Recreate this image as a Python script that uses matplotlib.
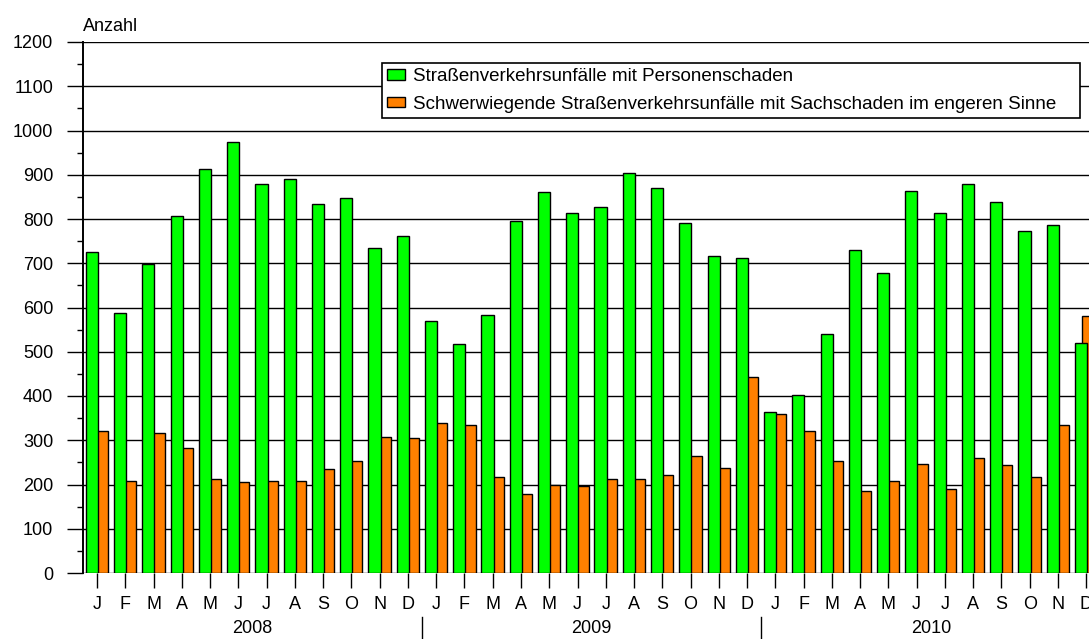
import numpy as np
import matplotlib
matplotlib.use("Agg")
from matplotlib import pyplot as plt
from matplotlib.patches import Rectangle, Patch
from matplotlib.ticker import MultipleLocator

plt.rcParams['font.family'] = ['Liberation Sans', 'DejaVu Sans']

# monthly values 2008-2010
months = ["J", "F", "M", "A", "M", "J", "J", "A", "S", "O", "N", "D"]
years = ["2008", "2009", "2010"]
personen = [725, 587, 698, 807, 912, 973, 879, 891, 835, 847, 734, 761,
            570, 518, 583, 796, 860, 813, 826, 903, 869, 791, 717, 712,
            364, 402, 539, 730, 679, 864, 813, 878, 838, 774, 787, 520]
sach = [322, 209, 317, 283, 213, 205, 209, 209, 234, 252, 308, 304,
        338, 334, 216, 178, 199, 196, 212, 212, 221, 264, 238, 442,
        359, 321, 252, 186, 208, 247, 190, 261, 243, 217, 334, 581]
label_p = "Straßenverkehrsunfälle mit Personenschaden"
label_s = "Schwerwiegende Straßenverkehrsunfälle mit Sachschaden im engeren Sinne"

green = "#00ff00"
orange = "#ff8000"
fs = 13

W, H = 1089, 639
fig = plt.figure(figsize=(W / 100, H / 100), dpi=100)
ax = fig.add_axes([83 / W, 1 - 573 / H, 1 - 83 / W, 531 / H])

x = np.arange(len(personen))
# orange bars sit partly behind the green ones
ax.bar(x - 0.14, sach, width=0.53, align="edge", color=orange,
       edgecolor="black", linewidth=1.0, zorder=2)
ax.bar(x - 0.40, personen, width=0.43, align="edge", color=green,
       edgecolor="black", linewidth=1.0, zorder=3)

ax.set_xlim(-0.5, 35.1)
ax.set_ylim(0, 1200)
ax.yaxis.set_major_locator(MultipleLocator(100))
ax.yaxis.set_minor_locator(MultipleLocator(50))
ax.grid(axis="y", color="black", linewidth=1.0, zorder=0)
ax.set_axisbelow(True)

for s in ["top", "right", "bottom"]:
    ax.spines[s].set_visible(False)
ax.spines["left"].set_linewidth(1.4)

ax.set_xticks(x)
ax.set_xticklabels(months * len(years))
ax.tick_params(axis="x", direction="out", length=10.8, width=1.0,
               pad=6, labelsize=fs)
ax.tick_params(axis="y", which="major", direction="out", length=11.5,
               width=1.0, pad=10, labelsize=fs)
ax.tick_params(axis="y", which="minor", direction="out", length=4.3,
               width=1.0)

trans = ax.get_xaxis_transform()
for k, yr in enumerate(years):
    ax.text(12 * k + 5.5, -0.104, yr, transform=trans, ha="center",
            va="center", fontsize=fs, clip_on=False)
    if k > 0:
        ax.plot([12 * k - 0.5] * 2, [-0.083, -0.13], transform=trans,
                color="black", linewidth=1.0, clip_on=False)

ax.text(0, 1.03, "Anzahl", transform=ax.transAxes, ha="left",
        va="center", fontsize=fs)

# legend box
box = Rectangle((382 / W, 1 - 118 / H), (1080 - 382) / W, 55 / H,
                transform=fig.transFigure, facecolor="white",
                edgecolor="black", linewidth=1.2, zorder=3)
fig.add_artist(box)
handles = [Patch(facecolor=green, edgecolor="black", linewidth=1.0),
           Patch(facecolor=orange, edgecolor="black", linewidth=1.0)]
leg = fig.legend(handles, [label_p, label_s], loc="upper left",
                 bbox_to_anchor=(382 / W, 1 - 63 / H), frameon=False,
                 fontsize=13.5, handlelength=0.97, handleheight=0.5,
                 handletextpad=0.38, labelspacing=0.56, borderpad=0.28,
                 borderaxespad=0)
leg.set_zorder(4)

fig.savefig("out.png", dpi=100)
